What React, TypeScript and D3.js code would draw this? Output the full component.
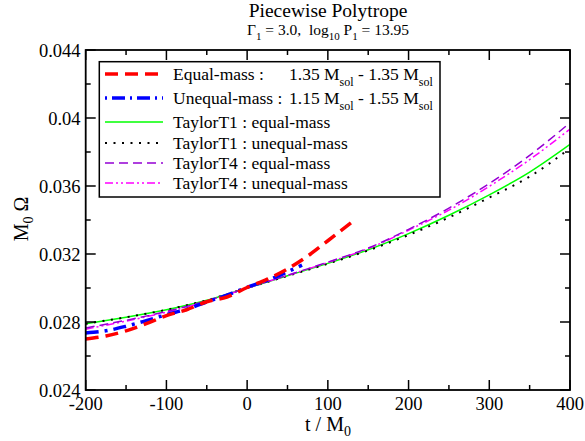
import React from "react";
import * as d3 from "d3";

const W = 585, H = 441;
const M = { left: 85.7, right: 570, top: 50, bottom: 390 };

const xTicksMajor = [-200, -100, 0, 100, 200, 300, 400];
const yTicksMajor = [0.024, 0.028, 0.032, 0.036, 0.04, 0.044];
const yTickLabels = ["0.024", "0.028", "0.032", "0.036", "0.04", "0.044"];

const redT = [-200, -175, -150, -125, -100, -75, -50, -25, 0, 25, 50, 75, 100, 130];
const redV = [0.027, 0.02718, 0.02748, 0.0279, 0.02838, 0.02872, 0.02919, 0.02947, 0.03003, 0.03052, 0.03112, 0.03188, 0.03278, 0.03388];

const blueT = [-200, -175, -150, -125, -100, -75, -50, -25, 0, 25, 50, 68];
const blueV = [0.02735, 0.02748, 0.02775, 0.02808, 0.02843, 0.02875, 0.02918, 0.02958, 0.03004, 0.03045, 0.03095, 0.03135];

const ppT = [-200, -150, -100, -50, 0, 50, 100, 150, 200, 250, 300, 350, 400];
const t1EqualV = [0.0279, 0.02828, 0.02872, 0.02928, 0.03, 0.03072, 0.03145, 0.03225, 0.0332, 0.03428, 0.03548, 0.03682, 0.03845];
const t1UnequalV = [0.0279, 0.02828, 0.02872, 0.02928, 0.03, 0.03071, 0.03143, 0.03221, 0.03312, 0.03415, 0.03532, 0.03655, 0.03822];
const t4EqualV = [0.02765, 0.0281, 0.02862, 0.02925, 0.03, 0.03075, 0.03152, 0.03235, 0.03345, 0.0347, 0.03615, 0.0378, 0.03972];
const t4UnequalV = [0.02758, 0.02805, 0.02858, 0.02922, 0.03, 0.03074, 0.0315, 0.03232, 0.0334, 0.03458, 0.03598, 0.03755, 0.03935];

const FONT = "Liberation Serif, Times New Roman, Times, serif";

export default function App() {
  const x = d3.scaleLinear().domain([-200, 400]).range([M.left, M.right]);
  const y = d3.scaleLinear().domain([0.024, 0.044]).range([M.bottom, M.top]);
  const line = d3
    .line<[number, number]>()
    .x((d) => x(d[0]))
    .y((d) => y(d[1]))
    .curve(d3.curveMonotoneX);
  const zip = (a: number[], b: number[]) => a.map((t, i) => [t, b[i]] as [number, number]);

  const series = [
    { t: ppT, v: t1EqualV, stroke: "#00ff00", w: 1.5, dash: "" },
    { t: ppT, v: t1UnequalV, stroke: "#000000", w: 2, dash: "2,6.5" },
    { t: ppT, v: t4UnequalV, stroke: "#ff00ff", w: 1.5, dash: "8,3,2,3,2,3" },
    { t: ppT, v: t4EqualV, stroke: "#9400d3", w: 1.5, dash: "9,5" },
    { t: blueT, v: blueV, stroke: "#0000ff", w: 3.5, dash: "13,6,3,6" },
    { t: redT, v: redV, stroke: "#ff0000", w: 3.5, dash: "13,7" },
  ];

  const xMinor = d3.range(-200, 401, 50);
  const yMinor = d3.range(0, 11).map((i) => 0.024 + i * 0.002);

  const legendRows = [
    { y: 74, stroke: "#ff0000", w: 3.5, dash: "13,7" },
    { y: 98, stroke: "#0000ff", w: 3.5, dash: "2,5,13,5" },
    { y: 122, stroke: "#00ff00", w: 1.5, dash: "" },
    { y: 143, stroke: "#000000", w: 2, dash: "2,6.5" },
    { y: 163, stroke: "#9400d3", w: 1.5, dash: "9,5" },
    { y: 183, stroke: "#ff00ff", w: 1.5, dash: "8,3,2,3,2,3" },
  ];
  const lx0 = 105, lx1 = 163, tx = 173;
  const fs = 17.5;
  const sub = { fontSize: 12 };

  return (
    <svg
      width={W}
      height={H}
      style={{ position: "absolute", left: 0, top: 0, fontFamily: FONT }}
    >
      <rect width={W} height={H} fill="#fff" />
      {/* title */}
      <text x={328} y={17} fontSize={19.5} textAnchor="middle">Piecewise Polytrope</text>
      <text x={328} y={35} fontSize={15.5} textAnchor="middle">
        Γ<tspan dy={5} fontSize={11}>1</tspan>
        <tspan dy={-5}>{" = 3.0,\u00a0 log"}</tspan>
        <tspan dy={5} fontSize={11}>10</tspan>
        <tspan dy={-5}> P</tspan>
        <tspan dy={5} fontSize={11}>1</tspan>
        <tspan dy={-5}> = 13.95</tspan>
      </text>

      <defs>
        <clipPath id="plotclip">
          <rect x={M.left} y={M.top} width={M.right - M.left} height={M.bottom - M.top} />
        </clipPath>
      </defs>

      <g clipPath="url(#plotclip)">
        {series.map((s, i) => (
          <path
            key={i}
            d={line(zip(s.t, s.v)) || ""}
            fill="none"
            stroke={s.stroke}
            strokeWidth={s.w}
            strokeDasharray={s.dash || undefined}
          />
        ))}
      </g>

      {/* ticks */}
      <g stroke="#000" strokeWidth={1.5}>
        {xMinor.map((t) => {
          const major = t % 100 === 0;
          const len = major ? 10 : 5;
          return (
            <g key={"xt" + t}>
              <line x1={x(t)} x2={x(t)} y1={M.bottom} y2={M.bottom - len} />
              <line x1={x(t)} x2={x(t)} y1={M.top} y2={M.top + len} />
            </g>
          );
        })}
        {yMinor.map((v, i) => {
          const major = i % 2 === 0;
          const len = major ? 10 : 5;
          return (
            <g key={"yt" + i}>
              <line x1={M.left} x2={M.left + len} y1={y(v)} y2={y(v)} />
              <line x1={M.right} x2={M.right - len} y1={y(v)} y2={y(v)} />
            </g>
          );
        })}
      </g>
      <rect
        x={M.left}
        y={M.top}
        width={M.right - M.left}
        height={M.bottom - M.top}
        fill="none"
        stroke="#000"
        strokeWidth={1.8}
      />

      {/* tick labels */}
      {xTicksMajor.map((t) => (
        <text key={"xl" + t} x={x(t)} y={410} fontSize={18.5} textAnchor="middle">
          {t}
        </text>
      ))}
      {yTicksMajor.map((v, i) => (
        <text key={"yl" + i} x={80.5} y={y(v) + 6.5} fontSize={18.5} textAnchor="end">
          {yTickLabels[i]}
        </text>
      ))}

      {/* axis titles */}
      <text x={328} y={431} fontSize={20} textAnchor="middle">
        t / M<tspan dy={5} fontSize={14}>0</tspan>
      </text>
      <text transform="translate(28,219) rotate(-90)" fontSize={20} textAnchor="middle">
        M<tspan dy={5} fontSize={14}>0</tspan>
        <tspan dy={-5}> Ω</tspan>
      </text>

      {/* legend */}
      <rect x={99.3} y={61.7} width={340.7} height={135.3} fill="#fff" stroke="#000" strokeWidth={1.5} />
      {legendRows.map((r, i) => (
        <line
          key={"ll" + i}
          x1={lx0}
          x2={lx1}
          y1={r.y}
          y2={r.y}
          stroke={r.stroke}
          strokeWidth={r.w}
          strokeDasharray={r.dash || undefined}
        />
      ))}
      <text x={tx} y={74 + 6} fontSize={fs}>
        Equal-mass :
        <tspan x={289}>1.35 M</tspan>
        <tspan dy={6} style={sub}>sol</tspan>
        <tspan dy={-6}> - 1.35 M</tspan>
        <tspan dy={6} style={sub}>sol</tspan>
      </text>
      <text x={tx} y={98 + 6} fontSize={fs}>
        Unequal-mass :
        <tspan x={289}>1.15 M</tspan>
        <tspan dy={6} style={sub}>sol</tspan>
        <tspan dy={-6}> - 1.55 M</tspan>
        <tspan dy={6} style={sub}>sol</tspan>
      </text>
      <text x={tx} y={122 + 6} fontSize={fs}>TaylorT1 : equal-mass</text>
      <text x={tx} y={143 + 6} fontSize={fs}>TaylorT1 : unequal-mass</text>
      <text x={tx} y={163 + 6} fontSize={fs}>TaylorT4 : equal-mass</text>
      <text x={tx} y={183 + 6} fontSize={fs}>TaylorT4 : unequal-mass</text>
    </svg>
  );
}
